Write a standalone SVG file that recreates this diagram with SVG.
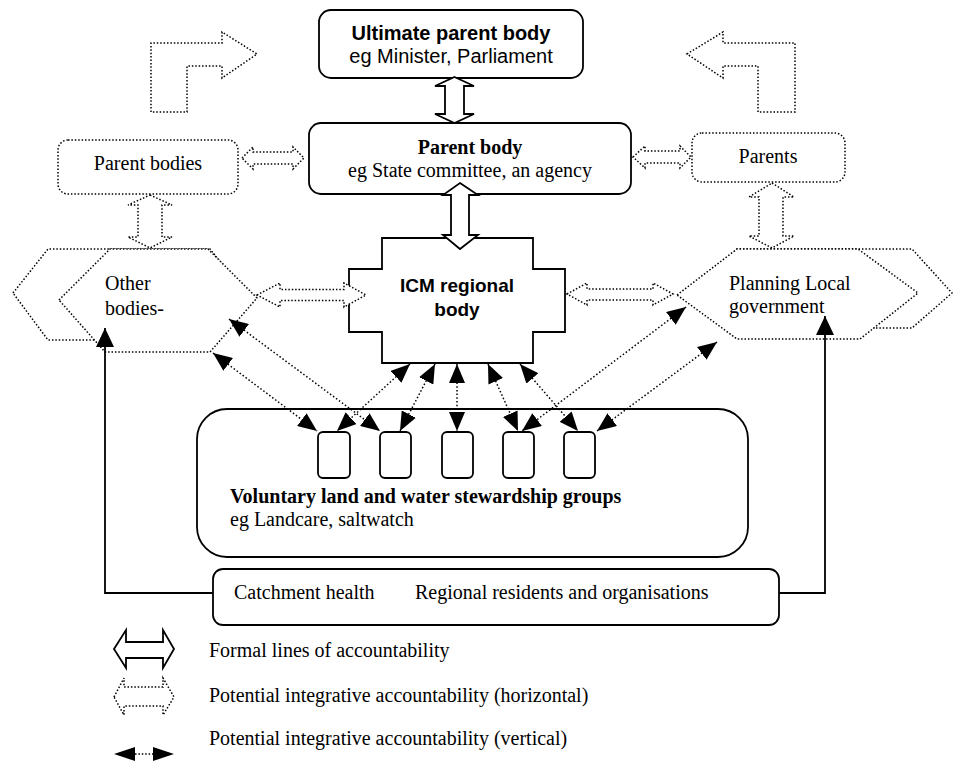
<svg xmlns="http://www.w3.org/2000/svg" width="954" height="763" viewBox="0 0 954 763">
<style>
.solid{fill:#fff;stroke:#000;stroke-width:1.8}
.dot{fill:#fff;stroke:#000;stroke-width:1.5;stroke-dasharray:1.5 1.9}
.dotn{fill:none;stroke:#000;stroke-width:1.5;stroke-dasharray:1.5 1.9}
.vline{fill:none;stroke:#000;stroke-width:1.5;stroke-dasharray:1.5 2.2;marker-start:url(#ah);marker-end:url(#ah)}
.sline{fill:none;stroke:#000;stroke-width:1.8;marker-end:url(#ahs)}
.ser{font-family:"Liberation Serif","Times New Roman",serif;font-size:20px;fill:#000}
.sans{font-family:"Liberation Sans",Arial,sans-serif;font-size:20px;fill:#000}
.b{font-weight:bold}
</style>
<defs>
<marker id="ah" viewBox="0 0 19 16" refX="19" refY="8" markerWidth="19" markerHeight="16" markerUnits="userSpaceOnUse" orient="auto-start-reverse"><path d="M0,0 L19,8 L0,16 Z" fill="#000"/></marker>
<marker id="ahs" viewBox="0 0 19 18" refX="19" refY="9" markerWidth="19" markerHeight="18" markerUnits="userSpaceOnUse" orient="auto"><path d="M0,0 L19,9 L0,18 Z" fill="#000"/></marker>
</defs>

<g id="bent-left"><path class="dotn" d="M151,112 L151,43 L222,43 L222,32 L257,54 L222,78 L222,66 L187,66 L187,112 Z"/></g>
<g id="bent-right"><path class="dotn" d="M687,54 L723,32 L723,43 L795,43 L795,112 L758,112 L758,66 L723,66 L723,78 Z"/></g>

<g id="ultimate">
<rect class="solid" x="319" y="10" width="264" height="68" rx="12"/>
<text class="sans b" x="451" y="40" text-anchor="middle">Ultimate parent body</text>
<text class="sans" x="451" y="63" text-anchor="middle">eg Minister, Parliament</text>
</g>

<g id="parent-body">
<rect class="solid" x="309" y="123" width="322" height="71" rx="12"/>
<text class="ser b" x="470" y="154" text-anchor="middle">Parent body</text>
<text class="ser" x="470" y="177" text-anchor="middle">eg State committee, an agency</text>
</g>

<g id="parent-bodies">
<rect class="dot" x="58" y="140" width="180" height="54" rx="10"/>
<text class="ser" x="148" y="170" text-anchor="middle">Parent bodies</text>
</g>

<g id="parents">
<rect class="dot" x="692" y="133" width="153" height="49" rx="10"/>
<text class="ser" x="768" y="163" text-anchor="middle">Parents</text>
</g>

<g id="other-bodies">
<path class="dot" d="M13,293 L48,249 L210,249 L245,293 L210,340 L48,340 Z"/>
<path class="dot" d="M59,300 L110,249 L208,249 L257,298 L210,352 L105,352 Z"/>
<text class="ser" x="105" y="290">Other</text>
<text class="ser" x="105" y="315">bodies-</text>
</g>

<g id="planning">
<path class="dot" d="M700,290 L737,249 L912,249 L952,293 L912,328 L737,328 Z"/>
<path class="dot" d="M677,295 L737,249 L858,249 L918,293 L860,339 L737,339 Z"/>
<text class="ser" x="729" y="290">Planning Local</text>
<text class="ser" x="729" y="313">government</text>
</g>

<g id="icm">
<path class="solid" d="M382,238 L533,238 L533,269 L565,269 L565,332 L533,332 L533,363 L382,363 L382,332 L349,332 L349,269 L382,269 Z"/>
<text class="sans b" x="457" y="292" text-anchor="middle" style="font-size:19px">ICM regional</text>
<text class="sans b" x="457" y="316" text-anchor="middle" style="font-size:19px">body</text>
</g>

<g id="voluntary">
<rect class="solid" x="197" y="409" width="551" height="148" rx="30"/>
<rect class="solid" x="318" y="432" width="32" height="46" rx="5"/>
<rect class="solid" x="380" y="432" width="31" height="46" rx="5"/>
<rect class="solid" x="442" y="432" width="31" height="46" rx="5"/>
<rect class="solid" x="503" y="432" width="31" height="46" rx="5"/>
<rect class="solid" x="564" y="432" width="31" height="46" rx="5"/>
<text class="ser b" x="230" y="503">Voluntary land and water stewardship groups</text>
<text class="ser" x="230" y="526">eg Landcare, saltwatch</text>
</g>

<g id="catchment">
<rect class="solid" x="213" y="569" width="566" height="56" rx="10"/>
<text class="ser" x="234" y="599">Catchment health</text>
<text class="ser" x="415" y="599">Regional residents and organisations</text>
</g>

<g id="connectors">
<path class="solid" d="M454.5,77 L474,86 L464,86 L464,114 L474,114 L454.5,123 L435,114 L445,114 L445,86 L435,86 Z"/>
<path class="solid" d="M460,183 L478,195 L469,195 L469,235 L478,235 L460,249 L443,235 L451,235 L451,195 L443,195 Z"/>
<path class="dot" d="M242,158 L253,147 L253,152 L293,152 L293,147 L304,158 L293,169 L293,164 L253,164 L253,169 Z"/>
<path class="dot" d="M633,157 L645,146 L645,151 L680,151 L680,146 L691,157 L680,168 L680,163 L645,163 L645,168 Z"/>
<path class="dot" d="M257,295 L280,283 L280,289.5 L344,289.5 L344,283 L366,295 L344,307 L344,300.5 L280,300.5 L280,307 Z"/>
<path class="dot" d="M567,294 L587,283 L587,289 L653,289 L653,283 L673,294 L653,305 L653,300 L587,300 L587,305 Z"/>
<path class="dot" d="M150,195 L172,205 L162,205 L162,237 L172,237 L150,248 L128,237 L138,237 L138,205 L128,205 Z"/>
<path class="dot" d="M772,183 L794,197 L783,197 L783,236 L794,236 L772,248 L749,236 L759,236 L759,197 L749,197 Z"/>
<line class="vline" x1="229" y1="319" x2="380" y2="431"/>
<line class="vline" x1="213" y1="353" x2="317" y2="431"/>
<line class="vline" x1="410" y1="364" x2="337" y2="431"/>
<line class="vline" x1="435" y1="364" x2="400" y2="431"/>
<line class="vline" x1="457" y1="364" x2="457" y2="431"/>
<line class="vline" x1="488" y1="364" x2="518" y2="431"/>
<line class="vline" x1="520" y1="364" x2="578" y2="431"/>
<line class="vline" x1="686" y1="307" x2="522" y2="431"/>
<line class="vline" x1="717" y1="342" x2="597" y2="431"/>
<path class="sline" d="M213,593 H105 V328"/>
<path class="sline" d="M779,593 H825 V316"/>
</g>

<g id="legend">
<path class="solid" d="M114,649 L126,630 L126,642 L163,642 L163,630 L174,649 L163,668 L163,658 L126,658 L126,668 Z"/>
<text class="ser" x="209" y="657">Formal lines of accountability</text>
<path class="dot" d="M114,697 L124,678 L124,687 L163,687 L163,678 L174,697 L163,715 L163,706 L124,706 L124,715 Z"/>
<text class="ser" x="209" y="702">Potential integrative accountability (horizontal)</text>
<line x1="135" y1="754" x2="153" y2="754" stroke="#000" stroke-width="1.5" stroke-dasharray="1.5 1.9"/>
<path d="M114,754 L135,747 L135,761 Z M174,754 L153,747 L153,761 Z" fill="#000"/>
<text class="ser" x="209" y="745">Potential integrative accountability (vertical)</text>
</g>
</svg>
